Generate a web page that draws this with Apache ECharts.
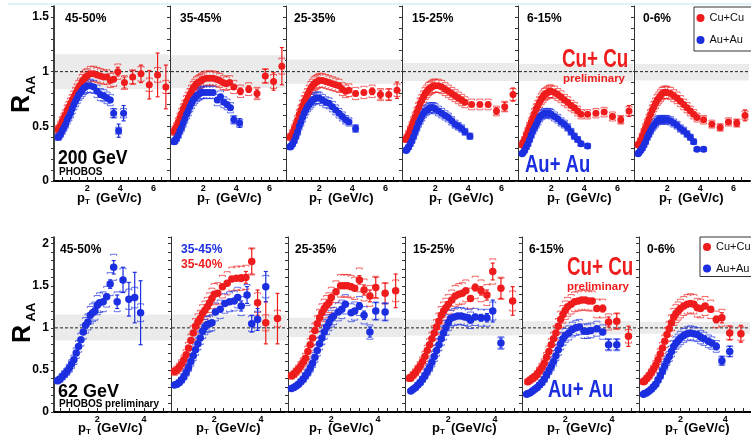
<!DOCTYPE html>
<html><head><meta charset="utf-8">
<script src="https://cdn.jsdelivr.net/npm/echarts@6/dist/echarts.min.js"></script>
<style>html,body{margin:0;padding:0;background:#fff}#c{width:751px;height:443px}</style>
</head><body><div id="c"></div>
<script>
// ---------------- DATA ----------------
const CENTRALITY = ['45-50%','35-45%','25-35%','15-25%','6-15%','0-6%'];
const X_LABELS_200 = [2,4,6];
const X_LABELS_62 = [2,4];
const X_TICKS_200 = [0.5,1,1.5,2,2.5,3,3.5,4,4.5,5,5.5,6,6.5];
const X_TICKS_62 = [0.4,0.8,1.2,1.6,2,2.4,2.8,3.2,3.6,4,4.4,4.8];
// [pT, R_AA, stat error]
const cu200_4550 = [[0.25,0.47],[0.3,0.48],[0.4,0.51],[0.5,0.55],[0.6,0.58],[0.7,0.61],[0.8,0.65],[0.9,0.68],[1.0,0.71],[1.1,0.74],[1.2,0.77],[1.3,0.80],[1.4,0.83],[1.5,0.86],[1.6,0.88],[1.7,0.91],[1.8,0.93],[1.9,0.95],[2.0,0.96],[2.2,0.98],[2.4,0.98],[2.6,0.97],[2.8,0.96],[3.0,0.95],[3.2,0.95],[3.4,0.92],[3.6,0.93,0.02],[3.85,1.00,0.04],[4.25,0.90,0.05],[4.75,0.95,0.06],[5.25,0.98,0.08],[5.75,0.88,0.13],[6.25,0.97,0.2],[6.75,0.86,0.2]];
const au200_4550 = [[0.25,0.40],[0.3,0.41],[0.4,0.43],[0.5,0.46],[0.6,0.49],[0.7,0.52],[0.8,0.56],[0.9,0.59],[1.0,0.62],[1.1,0.66],[1.2,0.70],[1.3,0.73],[1.4,0.76],[1.5,0.79],[1.6,0.81],[1.7,0.83],[1.8,0.85],[1.9,0.86],[2.0,0.87],[2.2,0.87],[2.4,0.86],[2.6,0.82],[2.8,0.79],[3.0,0.78],[3.2,0.76],[3.4,0.74,0.02],[3.6,0.62,0.04],[3.9,0.46,0.06],[4.2,0.62,0.07]];
const cu200_3545 = [[0.25,0.45],[0.3,0.47],[0.4,0.50],[0.5,0.54],[0.6,0.58],[0.7,0.62],[0.8,0.66],[0.9,0.69],[1.0,0.73],[1.1,0.76],[1.2,0.79],[1.3,0.82],[1.4,0.85],[1.5,0.87],[1.6,0.89],[1.7,0.90],[1.8,0.91],[1.9,0.92],[2.0,0.93],[2.2,0.94],[2.4,0.94],[2.6,0.94],[2.8,0.93],[3.0,0.92],[3.2,0.90],[3.4,0.89],[3.6,0.90],[3.85,0.86,0.02],[4.25,0.82,0.03],[4.75,0.84,0.03],[5.25,0.80,0.04],[5.75,0.96,0.06],[6.25,0.91,0.08],[6.75,1.05,0.17]];
const au200_3545 = [[0.25,0.36],[0.3,0.37],[0.4,0.39],[0.5,0.42],[0.6,0.46],[0.7,0.49],[0.8,0.53],[0.9,0.57],[1.0,0.61],[1.1,0.64],[1.2,0.68],[1.3,0.71],[1.4,0.74],[1.5,0.76],[1.6,0.78],[1.7,0.79],[1.8,0.80],[1.9,0.81],[2.0,0.81],[2.2,0.81],[2.4,0.81],[2.6,0.81],[2.85,0.74],[3.05,0.77],[3.25,0.72],[3.45,0.70],[3.65,0.67,0.02],[3.85,0.56,0.03],[4.2,0.53,0.04]];
const cu200_2535 = [[0.25,0.40],[0.3,0.41],[0.4,0.44],[0.5,0.48],[0.6,0.52],[0.7,0.56],[0.8,0.61],[0.9,0.65],[1.0,0.69],[1.1,0.73],[1.2,0.76],[1.3,0.79],[1.4,0.82],[1.5,0.85],[1.6,0.87],[1.7,0.89],[1.8,0.90],[1.9,0.91],[2.0,0.92],[2.2,0.92],[2.4,0.91],[2.6,0.90],[2.8,0.89],[3.0,0.88],[3.2,0.87],[3.4,0.84],[3.6,0.82],[3.8,0.83,0.01],[4.2,0.80,0.02],[4.7,0.81,0.02],[5.2,0.82,0.03],[5.7,0.79,0.04],[6.2,0.79,0.05],[6.7,0.83,0.075]];
const au200_2535 = [[0.25,0.31],[0.3,0.32],[0.4,0.34],[0.5,0.37],[0.6,0.41],[0.7,0.45],[0.8,0.50],[0.9,0.54],[1.0,0.58],[1.1,0.62],[1.2,0.65],[1.3,0.68],[1.4,0.70],[1.5,0.72],[1.6,0.74],[1.7,0.75],[1.8,0.76],[1.9,0.76],[2.0,0.76],[2.2,0.74],[2.4,0.72],[2.6,0.71],[2.8,0.68],[3.0,0.65],[3.2,0.62],[3.4,0.59],[3.6,0.56,0.01],[3.8,0.54,0.02],[4.2,0.48,0.03]];
const cu200_1525 = [[0.25,0.38],[0.3,0.40],[0.4,0.43],[0.5,0.47],[0.6,0.51],[0.7,0.55],[0.8,0.59],[0.9,0.63],[1.0,0.67],[1.1,0.71],[1.2,0.74],[1.3,0.77],[1.4,0.80],[1.5,0.82],[1.6,0.84],[1.7,0.85],[1.8,0.86],[1.9,0.87],[2.0,0.87],[2.2,0.87],[2.4,0.86],[2.6,0.84],[2.8,0.82],[3.0,0.80],[3.2,0.78],[3.4,0.76],[3.6,0.74],[3.8,0.72,0.01],[4.2,0.70,0.01],[4.7,0.70,0.02],[5.2,0.70,0.02],[5.7,0.64,0.03],[6.2,0.68,0.04],[6.7,0.79,0.06]];
const au200_1525 = [[0.25,0.28],[0.3,0.29],[0.4,0.31],[0.5,0.34],[0.6,0.37],[0.7,0.41],[0.8,0.45],[0.9,0.49],[1.0,0.53],[1.1,0.56],[1.2,0.59],[1.3,0.62],[1.4,0.64],[1.5,0.65],[1.6,0.66],[1.7,0.67],[1.8,0.67],[1.9,0.67],[2.0,0.66],[2.2,0.64],[2.4,0.62],[2.6,0.60],[2.8,0.58],[3.0,0.55],[3.2,0.52],[3.4,0.50],[3.6,0.48,0.01],[3.8,0.45,0.02],[4.1,0.41,0.02]];
const cu200_0615 = [[0.25,0.33],[0.3,0.35],[0.4,0.38],[0.5,0.42],[0.6,0.46],[0.7,0.50],[0.8,0.54],[0.9,0.58],[1.0,0.62],[1.1,0.66],[1.2,0.69],[1.3,0.72],[1.4,0.75],[1.5,0.77],[1.6,0.79],[1.7,0.80],[1.8,0.81],[1.9,0.82],[2.0,0.82],[2.2,0.81],[2.4,0.79],[2.6,0.77],[2.8,0.74],[3.0,0.72],[3.2,0.69],[3.4,0.67],[3.6,0.64],[3.8,0.61,0.01],[4.2,0.61,0.01],[4.7,0.62,0.01],[5.2,0.63,0.02],[5.7,0.59,0.02],[6.2,0.56,0.03],[6.7,0.64,0.05]];
const au200_0615 = [[0.25,0.25],[0.3,0.26],[0.4,0.28],[0.5,0.31],[0.6,0.34],[0.7,0.38],[0.8,0.42],[0.9,0.46],[1.0,0.49],[1.1,0.52],[1.2,0.55],[1.3,0.58],[1.4,0.60],[1.5,0.61],[1.6,0.62],[1.7,0.62],[1.8,0.62],[1.9,0.62],[2.0,0.61],[2.2,0.59],[2.4,0.57],[2.6,0.54],[2.8,0.52],[3.0,0.49],[3.2,0.45],[3.4,0.41],[3.6,0.38,0.01],[3.8,0.34,0.01],[4.2,0.32,0.02]];
const cu200_0006 = [[0.25,0.33],[0.3,0.34],[0.4,0.37],[0.5,0.41],[0.6,0.45],[0.7,0.49],[0.8,0.53],[0.9,0.57],[1.0,0.61],[1.1,0.65],[1.2,0.68],[1.3,0.71],[1.4,0.74],[1.5,0.76],[1.6,0.78],[1.7,0.80],[1.8,0.81],[1.9,0.81],[2.0,0.81],[2.2,0.80],[2.4,0.78],[2.6,0.76],[2.8,0.73],[3.0,0.70],[3.2,0.67],[3.4,0.64],[3.6,0.61],[3.8,0.58,0.01],[4.2,0.56,0.01],[4.7,0.52,0.01],[5.2,0.49,0.02],[5.7,0.54,0.02],[6.2,0.53,0.03],[6.7,0.60,0.05]];
const au200_0006 = [[0.25,0.25],[0.3,0.26],[0.4,0.28],[0.5,0.30],[0.6,0.33],[0.7,0.36],[0.8,0.40],[0.9,0.43],[1.0,0.46],[1.1,0.49],[1.2,0.51],[1.3,0.53],[1.4,0.55],[1.5,0.56],[1.6,0.56],[1.7,0.56],[1.8,0.56],[1.9,0.56],[2.0,0.56],[2.2,0.55],[2.4,0.53],[2.6,0.51],[2.8,0.48],[3.0,0.46],[3.2,0.43],[3.4,0.40],[3.6,0.36,0.01],[3.8,0.29,0.01],[4.2,0.29,0.02]];

const au62_4550 = [[0.3,0.37],[0.4,0.39],[0.5,0.42],[0.6,0.45],[0.7,0.48],[0.8,0.52],[0.9,0.57],[1.0,0.62],[1.1,0.70],[1.2,0.78],[1.3,0.86],[1.4,0.95],[1.5,1.03],[1.6,1.07],[1.7,1.15],[1.8,1.18],[1.9,1.20],[2.0,1.27],[2.1,1.30],[2.25,1.31],[2.4,1.37,0.03],[2.55,1.52,0.05],[2.7,1.72,0.08],[2.85,1.31,0.08],[3.1,1.57,0.15],[3.35,1.34,0.2],[3.6,1.36,0.3],[3.85,1.18,0.38]];
const cu62_3540 = [[0.3,0.48],[0.4,0.50],[0.5,0.53],[0.6,0.57],[0.7,0.62],[0.8,0.68],[0.9,0.76],[1.0,0.85],[1.1,0.94],[1.2,1.02],[1.3,1.07],[1.4,1.11],[1.5,1.17],[1.6,1.21],[1.7,1.25],[1.8,1.30],[1.9,1.35],[2.0,1.40],[2.15,1.41],[2.35,1.49],[2.55,1.53],[2.75,1.58],[2.95,1.59],[3.15,1.59,0.04],[3.35,1.60,0.07],[3.6,1.79,0.15],[3.85,1.30,0.15],[4.2,1.06,0.25],[4.7,1.11,0.3]];
const au62_3545 = [[0.3,0.32],[0.4,0.33],[0.5,0.35],[0.6,0.38],[0.7,0.42],[0.8,0.47],[0.9,0.53],[1.0,0.60],[1.1,0.67],[1.2,0.74],[1.3,0.81],[1.4,0.88],[1.5,0.96],[1.6,1.01],[1.7,1.04],[1.8,1.05],[1.9,1.06],[2.05,1.19],[2.25,1.22],[2.45,1.29],[2.65,1.31],[2.85,1.32],[3.0,1.36,0.03],[3.15,1.26,0.06],[3.4,1.39,0.1],[3.6,1.05,0.1],[3.85,1.10,0.13],[4.2,1.49,0.18]];
const cu62_2535 = [[0.3,0.43],[0.4,0.45],[0.5,0.48],[0.6,0.51],[0.7,0.55],[0.8,0.59],[0.9,0.64],[1.0,0.72],[1.1,0.80],[1.2,0.88],[1.3,0.97],[1.4,1.05],[1.5,1.12],[1.6,1.18],[1.7,1.23],[1.8,1.27],[1.9,1.30],[2.0,1.36],[2.2,1.43],[2.4,1.50],[2.55,1.50],[2.7,1.50],[2.85,1.49],[3.0,1.47],[3.2,1.57,0.05],[3.4,1.45,0.06],[3.65,1.38,0.07],[3.9,1.48,0.12],[4.3,1.41,0.12],[4.75,1.44,0.2]];
const au62_2535 = [[0.3,0.28],[0.4,0.29],[0.5,0.31],[0.6,0.33],[0.7,0.36],[0.8,0.39],[0.9,0.43],[1.0,0.47],[1.1,0.52],[1.2,0.58],[1.3,0.65],[1.4,0.73],[1.5,0.81],[1.6,0.88],[1.7,0.95],[1.8,1.01],[1.9,1.06],[2.0,1.11],[2.1,1.14],[2.3,1.19],[2.45,1.22],[2.6,1.28],[2.85,1.18],[3.0,1.20],[3.2,1.26,0.04],[3.4,1.15,0.05],[3.65,0.95,0.06],[3.9,1.20,0.1],[4.3,1.19,0.1]];
const cu62_1525 = [[0.35,0.40],[0.4,0.41],[0.5,0.44],[0.6,0.47],[0.7,0.51],[0.8,0.55],[0.9,0.60],[1.0,0.66],[1.1,0.73],[1.2,0.80],[1.3,0.87],[1.4,0.94],[1.5,1.01],[1.6,1.08],[1.7,1.15],[1.8,1.20],[1.9,1.24],[2.0,1.28],[2.15,1.33],[2.3,1.38],[2.45,1.40],[2.6,1.41],[2.75,1.44],[2.95,1.35,0.03],[3.15,1.48,0.04],[3.4,1.44,0.05],[3.65,1.39,0.06],[3.9,1.67,0.1],[4.25,1.47,0.12],[4.75,1.32,0.17]];
const au62_1525 = [[0.4,0.25],[0.5,0.27],[0.6,0.29],[0.7,0.32],[0.8,0.35],[0.9,0.39],[1.0,0.43],[1.1,0.48],[1.2,0.53],[1.3,0.59],[1.4,0.66],[1.5,0.73],[1.6,0.80],[1.7,0.87],[1.8,0.94],[1.9,1.00],[2.0,1.06],[2.1,1.11],[2.25,1.13],[2.4,1.14],[2.55,1.14],[2.7,1.13],[2.85,1.12],[2.95,1.09],[3.15,1.13,0.03],[3.4,1.12,0.04],[3.65,1.12,0.05],[3.9,1.20,0.13],[4.25,0.82,0.06]];
const cu62_0615 = [[0.4,0.36],[0.5,0.38],[0.6,0.40],[0.7,0.42],[0.8,0.45],[0.9,0.49],[1.0,0.53],[1.1,0.58],[1.2,0.65],[1.3,0.72],[1.4,0.80],[1.5,0.87],[1.6,0.94],[1.7,1.02],[1.8,1.10],[1.9,1.16],[2.0,1.21],[2.1,1.25],[2.25,1.28],[2.4,1.31],[2.55,1.32],[2.7,1.33],[2.85,1.33],[3.0,1.32],[3.15,1.32],[3.35,1.23,0.02],[3.6,1.23,0.04],[3.85,1.07,0.06],[4.2,1.08,0.09],[4.7,0.90,0.12]];
const au62_0615 = [[0.35,0.21],[0.4,0.22],[0.5,0.23],[0.6,0.25],[0.7,0.27],[0.8,0.29],[0.9,0.32],[1.0,0.35],[1.1,0.39],[1.2,0.44],[1.3,0.49],[1.4,0.54],[1.5,0.60],[1.6,0.67],[1.7,0.74],[1.8,0.81],[1.9,0.87],[2.0,0.91],[2.15,0.94],[2.3,0.98],[2.45,1.00],[2.6,1.01],[2.8,0.96],[2.95,0.96],[3.1,0.97],[3.35,0.99,0.02],[3.6,0.95,0.03],[3.85,0.80,0.06],[4.2,0.80,0.06]];
const cu62_0006 = [[0.35,0.36],[0.4,0.37],[0.5,0.40],[0.6,0.43],[0.7,0.47],[0.8,0.51],[0.9,0.56],[1.0,0.62],[1.1,0.69],[1.2,0.76],[1.3,0.84],[1.4,0.92],[1.5,0.99],[1.6,1.06],[1.7,1.13],[1.8,1.17],[1.9,1.20],[2.0,1.23],[2.15,1.26],[2.3,1.28],[2.45,1.29],[2.6,1.28],[2.75,1.24],[2.9,1.23],[3.1,1.26],[3.35,1.22,0.03],[3.6,1.10,0.04],[3.85,1.12,0.06],[4.2,0.94,0.08],[4.7,0.93,0.1]];
const au62_0006 = [[0.35,0.21],[0.4,0.22],[0.5,0.23],[0.6,0.25],[0.7,0.27],[0.8,0.30],[0.9,0.33],[1.0,0.38],[1.1,0.43],[1.2,0.49],[1.3,0.55],[1.4,0.61],[1.5,0.66],[1.6,0.72],[1.7,0.78],[1.8,0.82],[1.9,0.85],[2.0,0.88],[2.15,0.91],[2.3,0.93],[2.45,0.94],[2.6,0.93],[2.75,0.92],[2.9,0.89],[3.05,0.87],[3.25,0.84],[3.4,0.82],[3.6,0.78,0.04],[3.85,0.61,0.05],[4.2,0.72,0.06]];

// normalisation uncertainty bands [low, high] per centrality panel
const BAND_200 = [[0.84,1.16],[0.85,1.15],[0.89,1.11],[0.915,1.08],[0.915,1.07],[0.92,1.07]];
const BAND_62 = [[0.85,1.16],[0.85,1.16],[0.89,1.12],[0.91,1.10],[0.92,1.08],[0.93,1.07]];
// relative systematic uncertainty (brackets)
const SYS_200 = 0.07;
const SYS_62 = 0.09;

// ---------------- CHART ----------------
const FONT = 'Liberation Sans, Arial, Helvetica, sans-serif';
const RED = '#ee1c1c', BLUE = '#1c2fe0';
const ROWS = [
  {top:6, height:175, left0:54, step:116, xmin:0, xmax:7, ymax:1.6, xlabels:X_LABELS_200, xticks:X_TICKS_200,
   cu:[cu200_4550,cu200_3545,cu200_2535,cu200_1525,cu200_0615,cu200_0006],
   au:[au200_4550,au200_3545,au200_2535,au200_1525,au200_0615,au200_0006],
   band:BAND_200, sys:SYS_200, sym:7,
   titleOff:[23,27,23,27,29,25], titleY:198, labY:19, labOff:[11,10,8,10,9,9]},
  {top:237, height:175, left0:54, step:117, xmin:0.15, xmax:5.15, ymax:2.08, xlabels:X_LABELS_62, xticks:X_TICKS_62,
   cu:[null,cu62_3540,cu62_2535,cu62_1525,cu62_0615,cu62_0006],
   au:[au62_4550,au62_3545,au62_2535,au62_1525,au62_0615,au62_0006],
   band:BAND_62, sys:SYS_62, sym:7.5,
   titleOff:[24,25,21,27,25,26], titleY:428, labY:250, labOff:[6,10,7,8,7,8]}
];

function errRender(color, frac){
  return function(params, api){
    const x = api.value(0), y = api.value(1), e = api.value(2) || 0;
    const c = api.coord([x, y]);
    const s = y * frac;
    const t = api.coord([x, y + s])[1], b = api.coord([x, y - s])[1];
    const w = 3;
    const st = {stroke: color, lineWidth: 0.8, fill: null, opacity: 0.85};
    const ch = [
      {type:'polyline', shape:{points:[[c[0]-w,t+1.5],[c[0]-w,t],[c[0]+w,t],[c[0]+w,t+1.5]]}, style:st},
      {type:'polyline', shape:{points:[[c[0]-w,b-1.5],[c[0]-w,b],[c[0]+w,b],[c[0]+w,b-1.5]]}, style:st}
    ];
    if (e > 0) {
      const et = api.coord([x, y + e])[1], eb = api.coord([x, y - e])[1];
      const ls = {stroke: color, lineWidth: 1.2};
      ch.push({type:'line', shape:{x1:c[0], y1:et, x2:c[0], y2:eb}, style:ls});
      ch.push({type:'line', shape:{x1:c[0]-2, y1:et, x2:c[0]+2, y2:et}, style:ls});
      ch.push({type:'line', shape:{x1:c[0]-2, y1:eb, x2:c[0]+2, y2:eb}, style:ls});
    }
    return {type:'group', children: ch};
  };
}

const grid = [], xAxis = [], yAxis = [], series = [], elements = [];
const T = (x, y, text, o = {}) => ({type:'text', x, y, z:50, silent:true, rotation:o.rot || 0, scaleX:o.sx || 1,
  style:{text, fill:o.color || '#000', fontFamily:FONT, fontSize:o.size || 13, fontWeight:o.weight || 'bold',
  align:o.align || 'left', verticalAlign:'middle'}});
const yFmt = v => (Math.abs(v*2 - Math.round(v*2)) < 1e-6) ? String(Math.round(v*2)/2) : '';

ROWS.forEach((row, r) => {
  for (let i = 0; i < 6; i++) {
    const g = grid.length;
    const left = row.left0 + i * row.step;
    grid.push({left, top:row.top, width:row.step, height:row.height, containLabel:false});
    xAxis.push({gridIndex:g, type:'value', min:row.xmin, max:row.xmax, splitLine:{show:false},
      axisLine:{show:true, onZero:false, lineStyle:{color:'#000', width:2}},
      axisTick:{show:true, inside:true, length:4, customValues:row.xticks, lineStyle:{color:'#222'}},
      axisLabel:{show:true, margin:3, customValues:row.xlabels, color:'#000', fontFamily:FONT, fontWeight:'bold', fontSize:9}});
    yAxis.push({gridIndex:g, type:'value', position:'left', min:0, max:row.ymax, interval:0.1, splitLine:{show:false},
      axisLine:{show:true, lineStyle:{color: i === 0 ? '#000' : '#333', width: i === 0 ? 1.5 : 1}},
      axisTick:{show:true, inside:false, length:3, lineStyle:{color:'#333'}},
      axisLabel:{show: i === 0, margin:5, color:'#000', fontFamily:FONT, fontWeight:'bold', fontSize:12, formatter:yFmt}});
    const yi = yAxis.length - 1;
    const xmin = row.xmin;
    const band = row.band[i];
    series.push({type:'custom', xAxisIndex:g, yAxisIndex:yi, silent:true, z:1, clip:true,
      dimensions:['x','lo','hi'], encode:{x:0, y:[1,2]}, data:[[xmin, band[0], band[1]]],
      renderItem:(params, api) => {
        const cs = params.coordSys;
        const yh = api.coord([xmin, api.value(2)])[1], yl = api.coord([xmin, api.value(1)])[1];
        const y1 = api.coord([xmin, 1])[1];
        return {type:'group', children:[
          {type:'rect', shape:{x:cs.x + 1, y:yh, width:cs.width - 2, height:yl - yh}, style:{fill:'#ebebeb'}},
          {type:'line', shape:{x1:cs.x + 1, y1:y1, x2:cs.x + cs.width - 1, y2:y1}, style:{stroke:'#222', lineWidth:1, lineDash:[3,2]}}
        ]};
      }});
    [[row.cu[i], RED, 'Cu+Cu'], [row.au[i], BLUE, 'Au+Au']].forEach(([d, col, name]) => {
      if (!d) return;
      const full = d.map(p => [p[0], p[1], p[2] || 0]);
      series.push({type:'custom', xAxisIndex:g, yAxisIndex:yi, silent:true, z:2, clip:true,
        dimensions:['x','y','e'], encode:{x:0, y:1}, data:full, renderItem:errRender(col, row.sys)});
      series.push({type:'scatter', name, xAxisIndex:g, yAxisIndex:yi, silent:true, z:3, clip:true,
        symbol:'circle', symbolSize:row.sym, itemStyle:{color:col, opacity:1}, data:d.map(p => [p[0], p[1]])});
    });
    // panel texts
    const tx = left + row.titleOff[i];
    elements.push(T(tx, row.titleY, 'p'));
    elements.push(T(tx + 8, row.titleY + 3.5, 'T', {size:8}));
    elements.push(T(tx + 19, row.titleY, '(GeV/c)'));
    if (r === 1 && i === 1) {
      elements.push(T(left + row.labOff[i], row.labY, '35-45%', {color:BLUE, size:12}));
      elements.push(T(left + row.labOff[i], row.labY + 15, '35-40%', {color:RED, size:12}));
    } else {
      elements.push(T(left + row.labOff[i], row.labY, CENTRALITY[i], {size:12}));
    }
  }
});

elements.push({type:'line', z:50, silent:true, shape:{x1:8, y1:4, x2:751, y2:4}, style:{stroke:'#c2e9ef', lineWidth:1}});
// R_AA titles
elements.push(T(22.5, 104, 'R', {size:25, rot:Math.PI/2, align:'center'}));
elements.push(T(31, 85, 'AA', {size:13, rot:Math.PI/2, align:'center'}));
elements.push(T(23, 334, 'R', {size:25, rot:Math.PI/2, align:'center'}));
elements.push(T(31.5, 312, 'AA', {size:13, rot:Math.PI/2, align:'center'}));
// energy / experiment labels
elements.push(T(58, 158.5, '200 GeV', {size:21, sx:0.84}));
elements.push(T(59, 172, 'PHOBOS', {size:10}));
elements.push(T(58, 392.5, '62 GeV', {size:18}));
elements.push(T(59, 404.5, 'PHOBOS preliminary', {size:10}));
// system labels
elements.push(T(562, 60, 'Cu+ Cu', {size:25, sx:0.75, color:RED}));
elements.push(T(563, 79, 'preliminary', {size:11.5, color:RED}));
elements.push(T(525, 165, 'Au+ Au', {size:24, sx:0.77, color:BLUE}));
elements.push(T(567, 268, 'Cu+ Cu', {size:25, sx:0.75, color:RED}));
elements.push(T(567, 287, 'preliminary', {size:11.5, color:RED}));
elements.push(T(548, 390, 'Au+ Au', {size:24, sx:0.77, color:BLUE}));

const legendBase = {orient:'vertical', itemWidth:8, itemHeight:8, icon:'circle', selectedMode:false,
  backgroundColor:'#fff', borderColor:'#333', borderWidth:1, borderRadius:0, z:20,
  textStyle:{fontFamily:FONT, fontSize:11, color:'#111', lineHeight:14}, data:['Cu+Cu','Au+Au']};

const chart = echarts.init(document.getElementById('c'), null, {renderer:'canvas', width:751, height:443});
chart.setOption({
  animation:false,
  backgroundColor:'#fff',
  grid, xAxis, yAxis, series,
  legend:[
    Object.assign({}, legendBase, {left:694, top:7, padding:[4,12,4,2.5], itemGap:8}),
    Object.assign({}, legendBase, {left:700, top:237, padding:[3,12,1,3], itemGap:7.5})
  ],
  graphic:{elements}
});
</script>
</body></html>
